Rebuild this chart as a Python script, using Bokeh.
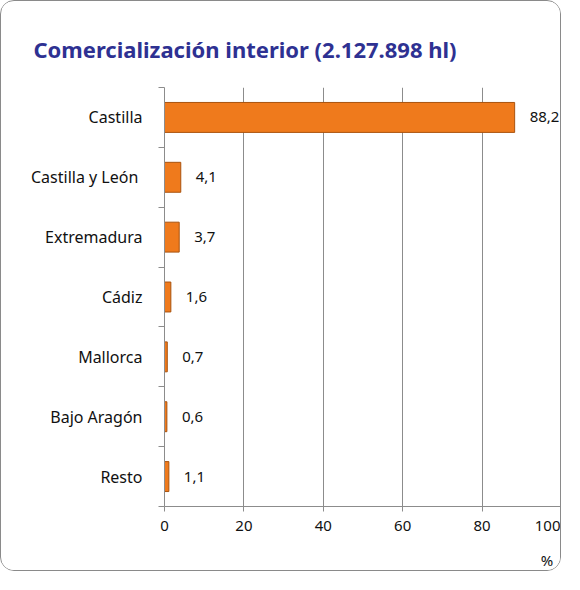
from bokeh.plotting import figure
from bokeh.models import Range1d, FixedTicker, LabelSet, ColumnDataSource, LinearAxis
from bokeh.core.properties import value
from bokeh.embed import file_html
from bokeh.resources import INLINE

categories = ["Castilla", "Castilla  y León", "Extremadura", "Cádiz", "Mallorca", "Bajo Aragón", "Resto"]
values = [88.2, 4.1, 3.7, 1.6, 0.7, 0.6, 1.1]
value_labels = ["88,2", "4,1", "3,7", "1,6", "0,7", "0,6", "1,1"]
x_ticks = [0, 20, 40, 60, 80, 100]
title_text = "Comercialización interior (2.127.898 hl)"

n = len(categories)
ypos = [n - i - 0.5 for i in range(n)]
src = ColumnDataSource(dict(cat=categories, val=values, lab=value_labels, y=ypos))

FONT = "Noto Sans"

p = figure(width=561, height=571, output_backend="svg", toolbar_location=None,
           x_range=Range1d(0, 100), y_range=Range1d(0, n),
           min_border_left=163, min_border_right=1, min_border_top=86, min_border_bottom=60)
p.outline_line_color = None
p.background_fill_color = "white"
p.border_fill_color = "white"
p.styles = {"border": "1.5px solid #8a8a8a", "border-radius": "14px", "overflow": "hidden"}

p.title.text = title_text
p.title.text_font = FONT
p.title.text_font_size = "22px"
p.title.text_font_style = "bold"
p.title.text_color = "#2E3192"
p.title.align = "left"
p.title.vertical_align = "top"
p.title.offset = -131
p.title.standoff = 44

p.hbar(y="y", left=0, right="val", height=0.5, source=src,
       fill_color="#EF7A1C", line_color="#A9530E", line_width=1)

# x axis
p.xaxis.ticker = FixedTicker(ticks=x_ticks)
p.xaxis.axis_line_color = "#8c8c8c"
p.xaxis.major_tick_line_color = "#8c8c8c"
p.xaxis.major_tick_out = 5
p.xaxis.major_tick_in = 0
p.xaxis.minor_tick_line_color = None
p.xaxis.major_label_text_font = FONT
p.xaxis.major_label_text_font_size = "15px"
p.xaxis.major_label_text_color = "#111111"
p.xaxis.major_label_standoff = 9
p.xgrid.ticker = FixedTicker(ticks=x_ticks)
p.xgrid.grid_line_color = "#8c8c8c"
p.xgrid.grid_line_width = 1
p.ygrid.grid_line_color = None

# unit axis ("%") under 100
unit_axis = LinearAxis(ticker=FixedTicker(ticks=[100]), major_label_overrides={100: "%"},
                       axis_line_color=None, major_tick_line_color=None,
                       minor_tick_line_color=None, major_label_standoff=10,
                       major_label_text_font=FONT, major_label_text_font_size="15px",
                       major_label_text_color="#111111")
p.add_layout(unit_axis, "below")

# y axis: labels at centres, tick marks at boundaries
p.yaxis.ticker = FixedTicker(ticks=ypos, minor_ticks=list(range(n + 1)))
p.yaxis.major_label_overrides = {y: c for y, c in zip(ypos, categories)}
p.yaxis.major_tick_line_color = None
p.yaxis.minor_tick_line_color = "#8c8c8c"
p.yaxis.minor_tick_out = 6
p.yaxis.minor_tick_in = 0
p.yaxis.axis_line_color = "#8c8c8c"
p.yaxis.major_label_text_font = FONT
p.yaxis.major_label_text_font_size = "16px"
p.yaxis.major_label_text_color = "#111111"
p.yaxis.major_label_standoff = 16

labels = LabelSet(x="val", y="y", text="lab", source=src, x_offset=15,
                  text_font=value(FONT), text_font_size=value("15px"), text_color="#111111",
                  text_baseline="middle", text_align="left")
p.add_layout(labels)

open("out.html", "w").write(file_html(p, INLINE))
